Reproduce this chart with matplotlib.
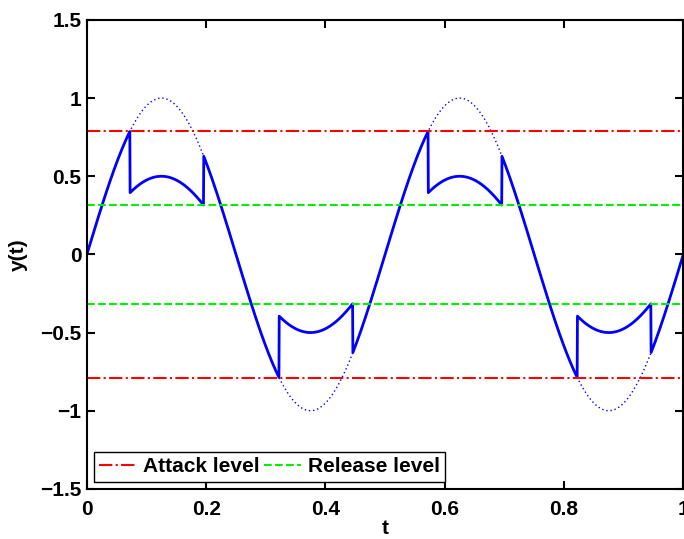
import numpy as np
import matplotlib
matplotlib.use("Agg")
import matplotlib.pyplot as plt

# signal and compressor settings
freq = 2.0            # cycles over the window
attack_level = 0.79
release_level = 0.316
comp_gain = 0.5
n_samples = 2001

x_ticks = [0, 0.2, 0.4, 0.6, 0.8, 1]
x_tick_labels = ["0", "0.2", "0.4", "0.6", "0.8", "1"]
y_ticks = [-1.5, -1, -0.5, 0, 0.5, 1, 1.5]
y_tick_labels = ["\u22121.5", "\u22121", "\u22120.5", "0", "0.5", "1", "1.5"]

t = np.linspace(0, 1, n_samples)
x = np.sin(2 * np.pi * freq * t)

# hysteresis compressor: switch gain down above attack, back up below release
y = np.empty_like(x)
compressing = False
for i, v in enumerate(x):
    if not compressing and abs(v) >= attack_level:
        compressing = True
    elif compressing and abs(comp_gain * v) <= release_level:
        compressing = False
    y[i] = comp_gain * v if compressing else v

plt.rcParams["font.family"] = ["Liberation Sans", "DejaVu Sans"]
plt.rcParams["font.weight"] = "bold"
plt.rcParams["font.size"] = 15

fig = plt.figure(figsize=(6.84, 5.39), dpi=100)
ax = fig.add_axes([0.127, 0.093, 0.872, 0.870])

ax.plot(t, x, color="blue", linestyle=(0, (1, 2)), linewidth=1)
ax.plot(t, y, color="blue", linewidth=2)
ax.plot([0, 1], [attack_level, attack_level], color="red", linestyle="-.",
        linewidth=1.5, label="Attack level")
ax.plot([0, 1], [release_level, release_level], color="#00ee00", linestyle="--",
        linewidth=1.5, label="Release level")
ax.plot([0, 1], [-attack_level, -attack_level], color="red", linestyle="-.", linewidth=1.5)
ax.plot([0, 1], [-release_level, -release_level], color="#00ee00", linestyle="--",
        linewidth=1.5)

ax.set_xlim(0, 1)
ax.set_ylim(-1.5, 1.5)
ax.set_xticks(x_ticks)
ax.set_xticklabels(x_tick_labels)
ax.set_yticks(y_ticks)
ax.set_yticklabels(y_tick_labels)
ax.tick_params(direction="in", length=6, width=1.5, top=True, right=True)
ax.tick_params(axis="x", pad=8)
ax.tick_params(axis="y", pad=4)
for s in ax.spines.values():
    s.set_linewidth(1.5)

ax.set_xlabel("t", fontweight="bold", labelpad=0)
ax.set_ylabel("y(t)", fontweight="bold", labelpad=9)

leg = ax.legend(loc="lower left", ncol=2, fancybox=False, framealpha=1,
                edgecolor="black", handlelength=1.8, handletextpad=0.3,
                columnspacing=0.2, borderpad=0.25, borderaxespad=0.35)
leg.get_frame().set_linewidth(1.0)

fig.savefig("out.png", dpi=100)
